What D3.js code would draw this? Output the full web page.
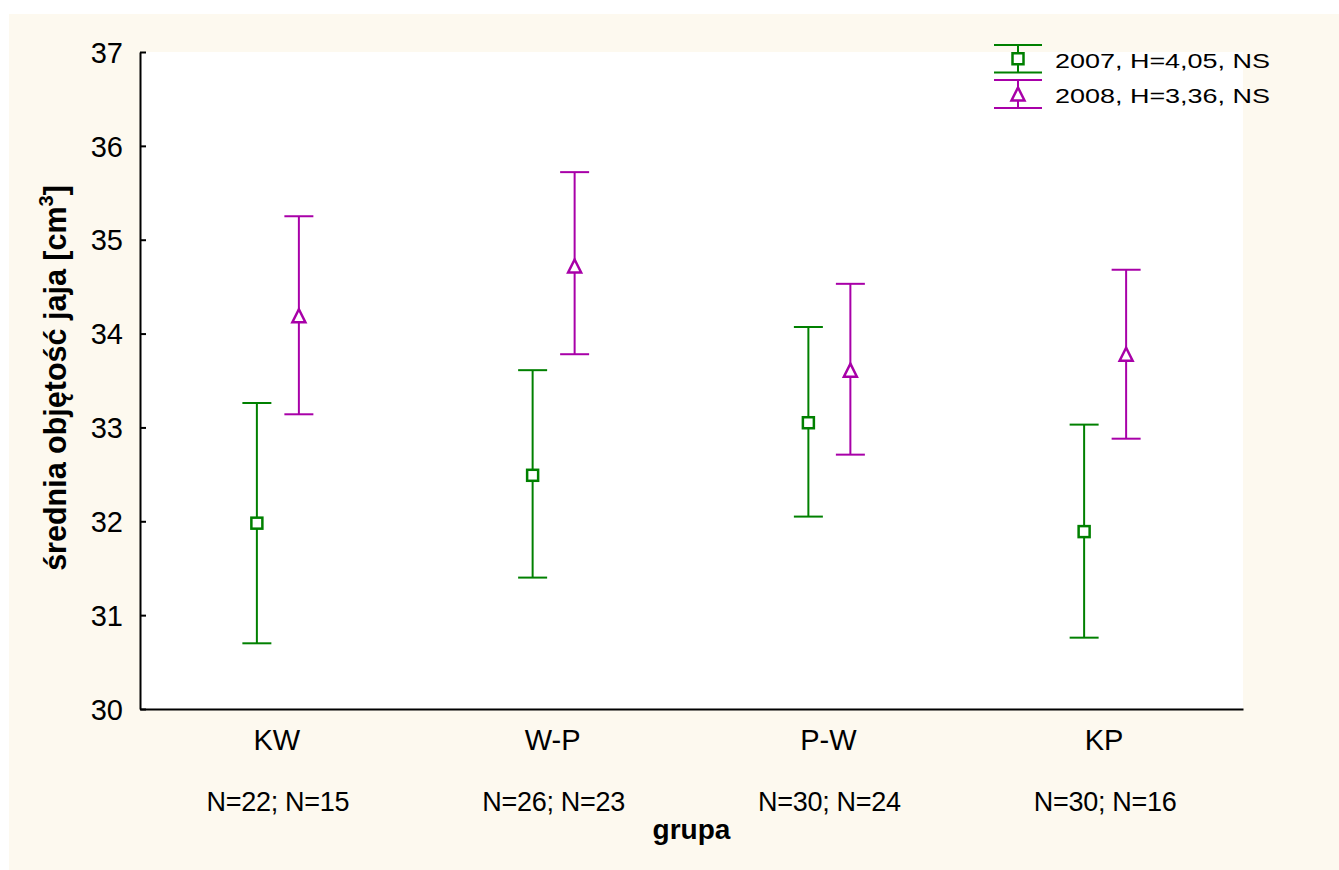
<!DOCTYPE html>
<html>
<head>
<meta charset="utf-8">
<script src="https://cdn.jsdelivr.net/npm/d3@7"></script>
<style>
  html, body { margin: 0; padding: 0; background: #ffffff; }
  svg { display: block; }
  text { font-family: "Liberation Sans", Arial, sans-serif; fill: #000; }
</style>
</head>
<body>
<svg id="chart" width="1339" height="870"></svg>
<script>
// ---- data ----
const categories = ["KW", "W-P", "P-W", "KP"];
const nLabels = ["N=22; N=15", "N=26; N=23", "N=30; N=24", "N=30; N=16"];
const series = ["2007, H=4,05, NS", "2008, H=3,36, NS"];
const mean2007 = [31.98, 32.49, 33.05, 31.89];
const low2007  = [30.70, 31.40, 32.05, 30.76];
const high2007 = [33.26, 33.61, 34.07, 33.03];
const mean2008 = [34.19, 34.72, 33.61, 33.78];
const low2008  = [33.14, 33.78, 32.71, 32.88];
const high2008 = [35.25, 35.72, 34.53, 34.68];
const yTicks = [30, 31, 32, 33, 34, 35, 36, 37];
const yTitle = "średnia objętość jaja [cm";
const yTitleSup = "3";
const xTitle = "grupa";

// ---- layout ----
const W = 1339, H = 870;
const plot = { left: 140, right: 1243, top: 52, bottom: 709 };
const colors = ["#008000", "#a800a8"];

const svg = d3.select("#chart");

// background
svg.append("rect").attr("x", 9).attr("y", 14).attr("width", W - 9).attr("height", H - 14)
  .attr("fill", "#fdf9ef");
svg.append("rect").attr("x", plot.left).attr("y", plot.top)
  .attr("width", plot.right - plot.left).attr("height", plot.bottom - plot.top)
  .attr("fill", "#ffffff");

const x = d3.scaleBand().domain(categories).range([plot.left, plot.right]);
const y = d3.scaleLinear().domain([30, 37]).range([plot.bottom, plot.top]);
const offset = 21;

// y axis
const yAxis = d3.axisLeft(y).tickValues(yTicks).tickSizeInner(-6).tickSizeOuter(0).tickPadding(0).tickFormat(d3.format("d"));
const gy = svg.append("g").attr("transform", `translate(${plot.left},0)`).call(yAxis);
gy.select(".domain").attr("stroke", "#000").attr("stroke-width", 2);
gy.selectAll(".tick line").attr("stroke", "#000").attr("stroke-width", 2);
gy.selectAll(".tick text").attr("x", -17).attr("dy", "0.35em")
  .style("font-size", "29px").style("font-family", '"Liberation Sans", Arial, sans-serif').attr("fill", "#000");

// x axis line
const xAxis = d3.axisBottom(x).tickSize(0).tickFormat(() => "");
const gx = svg.append("g").attr("transform", `translate(0,${plot.bottom})`).call(xAxis);
gx.select(".domain").attr("stroke", "#000").attr("stroke-width", 2);

// category labels
svg.append("g").selectAll("text").data(categories).join("text")
  .attr("x", d => x(d) + x.bandwidth() / 2 - 1)
  .attr("y", 750)
  .attr("text-anchor", "middle")
  .style("font-size", "29px")
  .text(d => d);

svg.append("g").selectAll("text").data(nLabels).join("text")
  .attr("x", (d, i) => x(categories[i]) + x.bandwidth() / 2)
  .attr("y", 811)
  .attr("text-anchor", "middle")
  .style("font-size", "27px")
  .style("letter-spacing", "-0.3px")
  .text(d => d);

// axis titles
svg.append("text")
  .attr("x", (plot.left + plot.right) / 2)
  .attr("y", 839)
  .attr("text-anchor", "middle")
  .style("font-size", "28px").style("font-weight", "bold")
  .text(xTitle);

const yt = svg.append("text")
  .attr("transform", `translate(66,378) rotate(-90)`)
  .attr("text-anchor", "middle")
  .style("font-size", "30.5px").style("font-weight", "bold");
yt.append("tspan").text(yTitle);
yt.append("tspan").attr("dy", -13).style("font-size", "20px").text(yTitleSup);
yt.append("tspan").attr("dy", 13).text("]");

// markers
function drawSquare(g, cx, cy, color, s) {
  g.append("rect").attr("x", cx - s / 2).attr("y", cy - s / 2).attr("width", s).attr("height", s)
    .attr("fill", "#fff").attr("stroke", color).attr("stroke-width", 2.5);
}
function drawTriangle(g, cx, cy, color, s) {
  const h = s;
  g.append("path")
    .attr("d", `M${cx},${cy - h / 2} L${cx + s / 2},${cy + h / 2} L${cx - s / 2},${cy + h / 2} Z`)
    .attr("fill", "#fff").attr("stroke", color).attr("stroke-width", 2.5).attr("stroke-linejoin", "miter");
}

function errorBar(g, cx, yLo, yHi, color, capW) {
  g.append("line").attr("x1", cx).attr("x2", cx).attr("y1", yLo).attr("y2", yHi)
    .attr("stroke", color).attr("stroke-width", 2);
  [yLo, yHi].forEach(yy => g.append("line").attr("x1", cx - capW / 2).attr("x2", cx + capW / 2)
    .attr("y1", yy).attr("y2", yy).attr("stroke", color).attr("stroke-width", 2));
}

const seriesData = [
  { mean: mean2007, low: low2007, high: high2007, dx: -offset, marker: drawSquare },
  { mean: mean2008, low: low2008, high: high2008, dx: offset, marker: drawTriangle }
];

const gMarks = svg.append("g");
seriesData.forEach((s, si) => {
  categories.forEach((c, i) => {
    const cx = x(c) + x.bandwidth() / 2 + s.dx;
    errorBar(gMarks, cx, y(s.low[i]), y(s.high[i]), colors[si], 29);
    s.marker(gMarks, cx, y(s.mean[i]), colors[si], si === 0 ? 11 : 13);
  });
});

// legend
const leg = svg.append("g");
const legRows = [
  { top: 45, bottom: 72.5, base: 68 },
  { top: 80, bottom: 108, base: 103 }
];
legRows.forEach((r, i) => {
  const cx = 1018;
  errorBar(leg, cx, r.top, r.bottom, colors[i], 48);
  const cy = (r.top + r.bottom) / 2;
  seriesData[i].marker(leg, cx, cy, colors[i], i === 0 ? 11 : 13);
  leg.append("text").attr("x", 1055).attr("y", r.base)
    .attr("textLength", 215).attr("lengthAdjust", "spacingAndGlyphs")
    .style("font-size", "20px").text(series[i]);
});
</script>
</body>
</html>
